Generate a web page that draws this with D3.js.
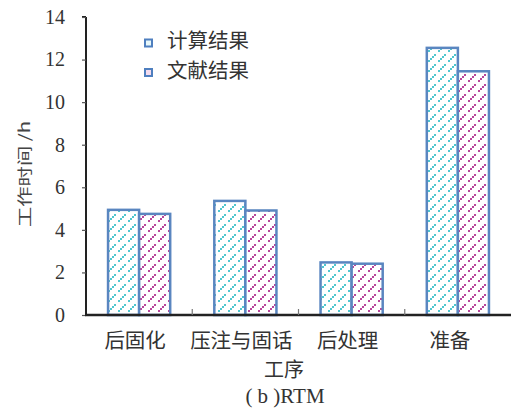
<!DOCTYPE html>
<html>
<head>
<meta charset="utf-8">
<script src="https://cdn.jsdelivr.net/npm/d3@7"></script>
<style>
  html, body { margin: 0; padding: 0; background: #fff; }
  svg { display: block; }
</style>
</head>
<body>
<svg id="chart" width="512" height="408"></svg>
<script>
// Process stages and working hours (h)
const categories = ["后固化", "压注与固话", "后处理", "准备"];
const seriesNames = ["计算结果", "文献结果"];
const calculated = [4.94, 5.36, 2.47, 12.55];
const literature = [4.75, 4.91, 2.41, 11.45];
const yTicks = [0, 2, 4, 6, 8, 10, 12, 14];

const svg = d3.select("#chart");
const margin = { left: 86, right: 1, top: 17, bottom: 93 };
const W = 512, H = 408;

const x = d3.scaleBand().domain(categories).range([margin.left, W - margin.right]).paddingInner(0).paddingOuter(0);
const xSub = d3.scaleBand().domain(seriesNames).range([0, x.bandwidth()]).paddingInner(0).paddingOuter(0.71);
const y = d3.scaleLinear().domain([0, 14]).range([H - margin.bottom, margin.top]);

const cjk = "'Noto Sans CJK SC', 'Noto Sans', sans-serif";
const serif = "'Liberation Serif', 'DejaVu Serif', serif";

// hatch patterns: stepped diagonal dashes
const defs = svg.append("defs");
function hatch(id, color) {
  const p = defs.append("pattern").attr("id", id).attr("patternUnits", "userSpaceOnUse")
    .attr("width", 10).attr("height", 10);
  p.append("rect").attr("width", 10).attr("height", 10).attr("fill", "#fff");
  [[0, 8], [2, 6], [4, 4], [8, 0]].forEach(([a, b]) =>
    p.append("rect").attr("x", a).attr("y", b).attr("width", 2).attr("height", 2).attr("fill", color));
}
hatch("hatchCyan", "#4fc6cf");
hatch("hatchMag", "#b8469c");
const fills = { "计算结果": "url(#hatchCyan)", "文献结果": "url(#hatchMag)" };

const rows = categories.map((c, i) => ({ cat: c, values: [
  { name: seriesNames[0], v: calculated[i] },
  { name: seriesNames[1], v: literature[i] }
]}));

// bars
const g = svg.append("g");
rows.forEach(r => {
  r.values.forEach(d => {
    g.append("rect")
      .attr("x", x(r.cat) + xSub(d.name))
      .attr("y", y(d.v))
      .attr("width", xSub.bandwidth())
      .attr("height", y(0) - y(d.v))
      .attr("fill", fills[d.name])
      .attr("stroke", "#5a86c0")
      .attr("stroke-width", 2.5);
  });
});

// y axis
const yAxis = svg.append("g").attr("transform", `translate(${margin.left},0)`)
  .call(d3.axisLeft(y).tickValues(yTicks).tickSize(4).tickPadding(17).tickFormat(d3.format("d")));
yAxis.select(".domain").attr("stroke", "#222").attr("stroke-width", 2).attr("d", `M0,${y(14)}H-4M0,${y(14)}V${y(0)}`);
yAxis.selectAll(".tick line").attr("stroke", "#555").attr("stroke-width", 1.2);
yAxis.selectAll(".tick text").attr("font-family", serif).attr("font-size", 20).attr("fill", "#333");

// x axis
const xAxis = svg.append("g").attr("transform", `translate(0,${y(0)})`);
xAxis.append("line").attr("x1", margin.left - 1).attr("x2", W - margin.right).attr("y1", 0).attr("y2", 0)
  .attr("stroke", "#222").attr("stroke-width", 2.5);
categories.slice(1).forEach(c => {
  xAxis.append("line").attr("x1", x(c)).attr("x2", x(c)).attr("y1", -6).attr("y2", 0)
    .attr("stroke", "#777").attr("stroke-width", 1.2);
});
categories.forEach((c, i) => {
  xAxis.append("text").attr("x", x(c) + x.bandwidth() / 2 - (i === 3 ? 8 : 4)).attr("y", 33)
    .attr("text-anchor", "middle").attr("font-family", cjk).attr("font-size", 20.5).attr("fill", "#333").text(c);
});

// axis titles
svg.append("text").attr("x", 284).attr("y", 377).attr("text-anchor", "middle")
  .attr("font-family", cjk).attr("font-size", 20).attr("fill", "#333").text("工序");
svg.append("text").attr("x", 285).attr("y", 403).attr("text-anchor", "middle")
  .attr("font-family", serif).attr("font-size", 21).attr("fill", "#333").attr("xml:space", "preserve").text("( b )RTM");
svg.append("text").attr("transform", `translate(30,174) rotate(-90)`)
  .attr("text-anchor", "middle").attr("font-family", cjk).attr("font-size", 15).attr("fill", "#444")
  .attr("textLength", 106).attr("lengthAdjust", "spacingAndGlyphs").text("工作时间 /h");

// legend
const legend = svg.append("g");
seriesNames.forEach((n, i) => {
  const ly = 43 + i * 29.5;
  legend.append("rect").attr("x", 145).attr("y", ly - 3.5).attr("width", 7).attr("height", 7)
    .attr("fill", i === 0 ? "#e8f8fa" : "#f4dcee").attr("stroke", "#4f7fbf").attr("stroke-width", 2);
  legend.append("text").attr("x", 167).attr("y", ly + 5).attr("font-family", cjk).attr("font-size", 20.5)
    .attr("fill", "#333").text(n);
});
</script>
</body>
</html>
